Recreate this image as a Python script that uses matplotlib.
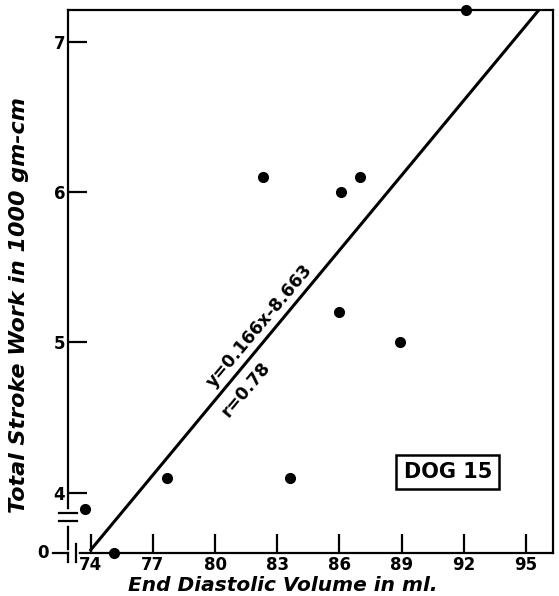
import numpy as np
import matplotlib.pyplot as plt

# Daten
edv = [73.7, 75.1, 77.7, 82.3, 83.6, 86.0, 86.1, 87.0, 88.9, 92.1]
work = [3.89, 3.6, 4.1, 6.1, 4.1, 5.2, 6.0, 6.1, 5.0, 7.21]
x_ticks = [74, 77, 80, 83, 86, 89, 92, 95]
y_ticks = [4, 5, 6, 7]
slope = 0.166
intercept = -8.663
r_wert = 0.78

fig = plt.figure(figsize=(5.59, 5.96), dpi=100)
ax = fig.add_axes([0.1216, 0.0721, 0.8674, 0.911])

ax.set_xlim(72.9, 96.3)
ax.set_ylim(3.6, 7.21)

# Regressionsgerade
xl = np.array([74, 96.3])
ax.plot(xl, slope * xl + intercept, color='black', lw=2.2)

# Messpunkte
ax.plot(edv, work, 'o', color='black', markersize=7, clip_on=False, zorder=5)

for s in ax.spines.values():
    s.set_linewidth(1.6)

ax.set_xticks(x_ticks)
ax.set_yticks(y_ticks)
ax.set_xticklabels([str(v) for v in x_ticks], fontweight='bold', fontsize=12)
ax.set_yticklabels([str(v) for v in y_ticks], fontweight='bold', fontsize=12)
ax.tick_params(direction='in', length=14, width=1.6, pad=2)

# Achsenbrueche
ax.plot([0.0, 0.0], [0.056, 0.076], transform=ax.transAxes, color='white', lw=4, clip_on=False, zorder=6)
ax.plot([-0.018, 0.018], [0.059, 0.059], transform=ax.transAxes, color='black', lw=1.6, clip_on=False, zorder=7)
ax.plot([-0.018, 0.018], [0.073, 0.073], transform=ax.transAxes, color='black', lw=1.6, clip_on=False, zorder=7)
ax.plot([0.0, 0.017], [0.0, 0.0], transform=ax.transAxes, color='white', lw=4, clip_on=False, zorder=6)
ax.plot([0.017, 0.017], [-0.017, 0.017], transform=ax.transAxes, color='black', lw=1.6, clip_on=False, zorder=7)
ax.plot([0.0, 0.0], [-0.017, 0.0], transform=ax.transAxes, color='black', lw=1.6, clip_on=False, zorder=7)
ax.plot([-0.03, 0.0], [0.0, 0.0], transform=ax.transAxes, color='black', lw=1.6, clip_on=False, zorder=7)
ax.text(-0.04, 0.0, '0', transform=ax.transAxes, ha='right', va='center', fontweight='bold', fontsize=12)

# Gleichung entlang der Geraden
ax.text(82.16, 5.11, 'y=0.166x-8.663', rotation=50, ha='center', va='center', fontweight='bold', fontsize=12.5)
ax.text(81.5, 4.69, 'r=%.2f' % r_wert, rotation=50, ha='center', va='center', fontweight='bold', fontsize=12.5)

ax.text(0.801, 0.208, 'DOG 15', transform=fig.transFigure, ha='center', va='center', fontweight='bold', fontsize=15,
        bbox=dict(boxstyle='square,pad=0.35', fc='white', ec='black', lw=1.8))

fig.text(0.506, 0.017, 'End Diastolic Volume in ml.', ha='center', va='center', style='italic', fontweight='bold', fontsize=14.5)
fig.text(0.034, 0.488, 'Total Stroke Work in 1000 gm-cm', ha='center', va='center', rotation=90, style='italic', fontweight='bold', fontsize=16)

plt.savefig('out.png', dpi=100)
